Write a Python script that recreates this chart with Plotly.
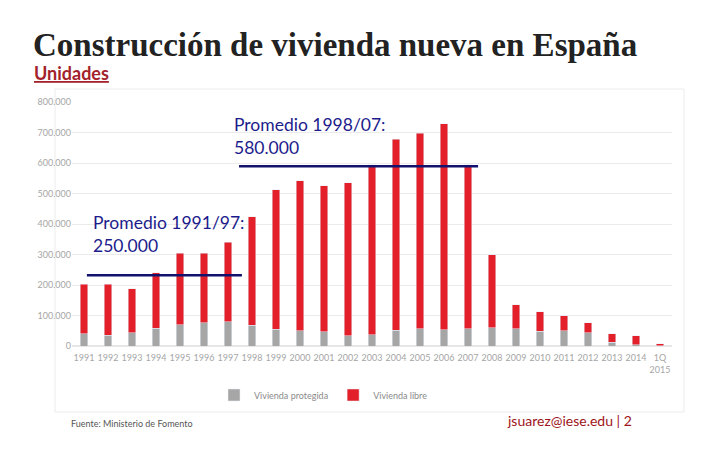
import plotly.graph_objects as go

years = ["1991", "1992", "1993", "1994", "1995", "1996", "1997", "1998", "1999", "2000",
         "2001", "2002", "2003", "2004", "2005", "2006", "2007", "2008", "2009", "2010",
         "2011", "2012", "2013", "2014", "1Q<br>2015"]
protegida = [40000, 36000, 44000, 59000, 69000, 77000, 79000, 68000, 55000, 50000,
             47000, 33000, 37000, 52000, 56000, 53000, 56000, 60000, 56000, 48000,
             50000, 43000, 12000, 4000, 1000]
total = [202000, 202000, 188000, 241000, 304000, 304000, 340000, 423000, 512000, 542000,
         526000, 536000, 595000, 678000, 697000, 728000, 595000, 299000, 136000, 112000,
         99000, 77000, 41000, 33000, 7000]
libre = [t - p for t, p in zip(total, protegida)]

avg_labels = ["Promedio 1991/97:<br>250.000", "Promedio 1998/07:<br>580.000"]
avg_levels = [232000, 589000]

y_ticks = [0, 100000, 200000, 300000, 400000, 500000, 600000, 700000, 800000]
y_ticktext = [f"{v:,}".replace(",", ".") for v in y_ticks]

L, R, T, B = 72, 48, 102, 104
W, H = 720, 450
pw, ph = W - L - R, H - T - B
def px(x): return (x - L) / pw
def py(y): return (H - B - y) / ph

fig = go.Figure()
fig.add_bar(x=years, y=protegida, name="Vivienda protegida", marker_color="#a6a6a6")
fig.add_bar(x=years, y=libre, name="Vivienda libre", marker_color="#e3202a")

# average lines (category index positions)
spans = [(0.12, 6.58), (6.46, 16.42)]
for (x0, x1), lv in zip(spans, avg_levels):
    fig.add_shape(type="line", xref="x", yref="y", x0=x0, x1=x1, y0=lv, y1=lv,
                  line=dict(color="#12126e", width=2.5))

label_pos = [(91, 234), (232, 136)]
for (lx, ly), text in zip(label_pos, avg_labels):
    fig.add_annotation(text=text, xref="paper", yref="paper", x=px(lx), y=py(ly),
                       xanchor="left", yanchor="middle", showarrow=False, align="left",
                       font=dict(family="Lato", size=17.5, color="#1c1c8c"))

# titles and footer
fig.add_annotation(text="<b>Construcción de vivienda nueva en España</b>", xref="paper", yref="paper",
                   x=px(31), y=py(45), xanchor="left", yanchor="middle", showarrow=False,
                   font=dict(family="Liberation Serif", size=33, color="#222222"))
fig.add_annotation(text="<b><u>Unidades</u></b>", xref="paper", yref="paper",
                   x=px(32), y=py(73), xanchor="left", yanchor="middle", showarrow=False,
                   font=dict(family="Lato", size=18, color="#a3222b"))
fig.add_annotation(text="Fuente: Ministerio de Fomento", xref="paper", yref="paper",
                   x=px(69), y=py(423), xanchor="left", yanchor="middle", showarrow=False,
                   font=dict(family="Lato", size=9, color="#555555"))
fig.add_annotation(text="jsuarez@iese.edu | 2", xref="paper", yref="paper",
                   x=px(505), y=py(420), xanchor="left", yanchor="middle", showarrow=False,
                   font=dict(family="Lato", size=14, color="#9e1420"))

# chart border
fig.add_shape(type="rect", xref="paper", yref="paper", x0=px(55), x1=px(684), y0=py(412), y1=py(89),
              line=dict(color="#ececec", width=1), layer="below")

fig.update_layout(
    width=W, height=H, margin=dict(l=L, r=R, t=T, b=B),
    paper_bgcolor="white", plot_bgcolor="white",
    barmode="stack", bargap=0.67,
    showlegend=True,
    legend=dict(orientation="h", x=px(214), y=py(395), xanchor="left", yanchor="middle",
                font=dict(family="Lato", size=9, color="#8a8a8a"), traceorder="normal",
                itemwidth=30),
    font=dict(family="Lato"),
)
fig.update_yaxes(range=[0, 800000], tickvals=y_ticks, ticktext=y_ticktext, showgrid=True,
                 gridcolor="#ebebeb", gridwidth=1, zeroline=True, zerolinecolor="#e6e6e6",
                 tickfont=dict(family="Lato", size=9, color="#a6a6a6"), ticks="", showline=False)
fig.update_xaxes(tickfont=dict(family="Lato", size=9, color="#a6a6a6"), ticks="", showline=False,
                 tickangle=0, ticklabelstandoff=5)

fig.write_html("out.html")
